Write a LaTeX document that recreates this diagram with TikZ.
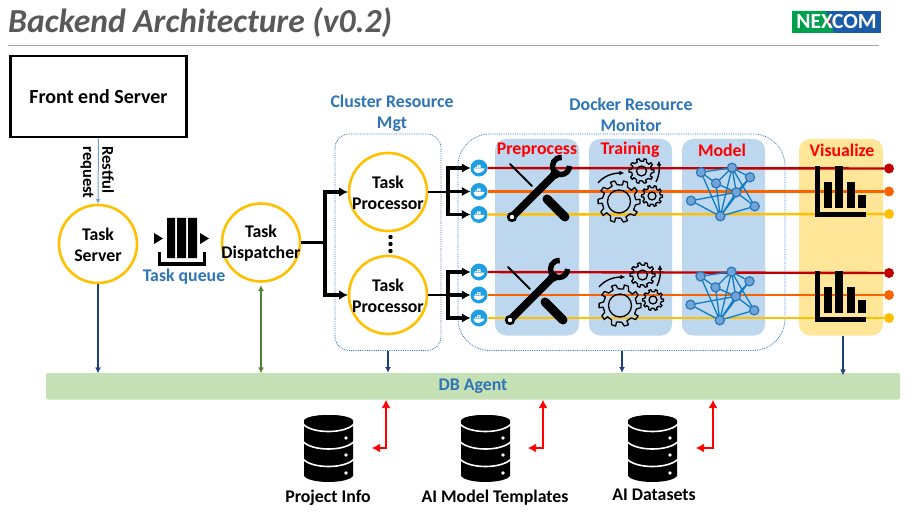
\documentclass[tikz,border=0pt]{standalone}
\usepackage{fontspec}
\setmainfont{Carlito}
\usetikzlibrary{arrows.meta,calc}
\definecolor{ablue}{HTML}{2E75B6}
\definecolor{panelblue}{HTML}{BDD7EE}
\definecolor{panelyel}{HTML}{FFE699}
\definecolor{ring}{HTML}{FFC000}
\definecolor{dbgreen}{HTML}{C5E0B4}
\definecolor{navy}{HTML}{1F3F7F}
\definecolor{grn}{HTML}{548235}
\definecolor{lred}{HTML}{C00000}
\definecolor{lora}{HTML}{FA6400}
\definecolor{dock}{HTML}{1E9FE3}
\definecolor{netl}{HTML}{0F7CC4}
\definecolor{netn}{HTML}{6FA5D8}
\definecolor{logog}{HTML}{00A04E}
\definecolor{logob}{HTML}{1B5CA8}
\tikzset{
  x=1pt,y=-1pt,
  txt/.style={font=\fontsize{17.8}{21}\selectfont\bfseries,align=center,inner sep=0pt},
  blabel/.style={txt,text=ablue},
  rlabel/.style={txt,text=red},
  proc/.style={circle,draw=ring,line width=2.6pt,minimum size=78pt,inner sep=0pt},
  proclabel/.style={txt,yshift=-1pt},
  panel/.style={rounded corners=11pt},
  dotbox/.style={draw=ablue,densely dotted,line width=0.8pt},
  blacktip/.style={line width=0.6pt,-{Latex[length=8.5pt,width=9pt]}},
  blackline/.style={line width=2.8pt},
  shaftline/.style={line width=3.4pt,line cap=rect},
  navyline/.style={draw=navy,line width=1.3pt},
  navytip/.style={draw=navy,line width=0.4pt,-{Latex[length=5.5pt,width=5.5pt]}},
  grnline/.style={draw=grn,line width=1.3pt},
  grntip/.style={draw=grn,line width=0.4pt,-{Latex[length=5.5pt,width=5.5pt]}},
  redline/.style={draw=red,line width=2.8pt},
  redtip/.style={draw=red,line width=0.6pt,-{Latex[length=8pt,width=8.5pt]}},
  dockn/.style={circle,fill=dock,minimum size=17pt,inner sep=0pt},
  endn/.style={circle,minimum size=10pt,inner sep=0pt},
  conn/.style={line width=2.4pt},
}
\newcommand{\DockWhale}[2]{%
  \begin{scope}[shift={(#1,#2)}]
    \fill[white] (-5.5,0.5) -- (5.5,0.5) .. controls (5,3.5) and (1,5) .. (-1.5,5) .. controls (-4,5) and (-5.5,3) .. (-5.5,0.5) -- cycle;
    \fill[white] (-4,-1) rectangle (-2.4,0) (-2,-1) rectangle (-0.4,0) (0,-1) rectangle (1.6,0) (-2,-3) rectangle (-0.4,-1.4) (0,-3) rectangle (1.6,-1.4);
  \end{scope}}
\newcommand{\ToolIcon}[2]{%
  \begin{scope}[shift={(#1,#2)}]
    \draw[line width=2pt,line cap=round] (510,164) -- (532,186);
    \draw[line width=9pt,line cap=round] (547,199) -- (565,217);
    \draw[line width=7.5pt] (512,217) -- (556,173);
    \fill (512,217) circle[radius=5.2];
    \fill[white] (512,217) circle[radius=2.2];
    \draw[line width=5.4pt] (569.5,166) arc[start angle=0,end angle=275,radius=8.5];
    \fill (555,174) circle[radius=5];
  \end{scope}}
\newcommand{\GearShape}[4]{% cx cy outer inner
  \pgfmathsetmacro{\gi}{#3*0.8}
  \draw[line width=1.3pt,line join=round] (#1,#2)
    ++(0:#3) \foreach \a in {0,36,...,324}{
       -- ($(#1,#2)+(\a+6:#3)$) -- ($(#1,#2)+(\a+12:\gi)$) -- ($(#1,#2)+(\a+30:\gi)$) -- ($(#1,#2)+(\a+36-6:#3)$)
    } -- cycle;
  \draw[line width=1.3pt] (#1,#2) circle[radius=#4];}
\newcommand{\GearIcon}[2]{%
  \begin{scope}[shift={(#1,#2)}]
    \GearShape{619}{201.5}{21}{11.5}
    \GearShape{641.5}{171}{12.5}{5}
    \GearShape{652}{196}{10.5}{4}
    \draw[line width=1.4pt] (598,183) .. controls (604,176) and (612,173) .. (621,173);
    \draw[line width=0.4pt,-{Latex[length=4.5pt,width=4.5pt]}] (619,173) -- (624,173);
    \draw[line width=1.4pt] (656,182) .. controls (659,176) and (660,169) .. (659,164);
    \draw[line width=0.4pt,-{Latex[length=4.5pt,width=4.5pt]}] (659,166) -- (659,161);
  \end{scope}}
\newcommand{\NetIcon}[2]{%
  \begin{scope}[shift={(#1,#2)}]
    \coordinate (A) at (701,172.3);\coordinate (B) at (732,167.7);\coordinate (C) at (750,177.3);
    \coordinate (D) at (716,183.3);\coordinate (E) at (736.3,192.3);\coordinate (F) at (691,200.7);
    \coordinate (G) at (754.7,206.3);\coordinate (H) at (720.3,216.3);
    \draw[netl,line width=1.3pt] (A)--(B) (A)--(D) (A)--(H) (B)--(D) (B)--(C) (B)--(H) (B)--(E) (C)--(E)
      (D)--(E) (D)--(H) (E)--(H) (E)--(F) (F)--(H) (G)--(H) (E)--(G) (B)--(G) (C)--(H);
    \foreach \p in {A,B,C,D,E,F,G,H}{\draw[fill=netn,draw=ablue,line width=1.2pt] (\p) circle[radius=4.6];}
  \end{scope}}
\newcommand{\ChartIcon}[2]{%
  \begin{scope}[shift={(#1,#2)}]
    \fill (815,166) rectangle (820,217);
    \fill (815,212.5) rectangle (866,217);
    \fill (824,182) rectangle (832,208);
    \fill (835,166) rectangle (843,208);
    \fill (847,182) rectangle (855,208);
    \fill (858,195) rectangle (866,208);
  \end{scope}}
\newcommand{\DbIcon}[1]{%
  \begin{scope}[shift={(#1,0)}]
    \fill (304,421) arc[start angle=180,end angle=360,x radius=24.5,y radius=6] -- (353,476)
      .. controls (347,484) and (310,484) .. (304,476) -- cycle;
    \fill (328.5,421) ellipse[x radius=24.5,y radius=6];
    \foreach \yy in {424,441.5,459}{
      \draw[white,line width=1.6pt] (303,\yy) .. controls (312,\yy+10) and (345,\yy+10) .. (354,\yy);}
    \foreach \yy in {438,455,473}{\fill[white] (346,\yy) circle[radius=1.8];}
  \end{scope}}
\newcommand{\BlackTo}[2]{% from, to node west
  \draw[shaftline] (#1) -- (#1 |- #2.west) -- ([xshift=-6pt]#2.west);
  \draw[blacktip] ([xshift=-9pt]#2.west) -- (#2.west);}
\newcommand{\NavyDown}[2]{%
  \draw[navyline] (#1) -- ([yshift=3pt]#2);
  \draw[navytip] ([yshift=6pt]#2) -- (#2);}
\newcommand{\RedPair}[3]{%
  \draw[redline] ([yshift=-5pt]#1) -- (#2) -- ([xshift=5pt]#3);
  \draw[redtip] ([yshift=-9pt]#1) -- (#1);
  \draw[redtip] ([xshift=9pt]#3) -- (#3);}
\begin{document}
\begin{tikzpicture}
\useasboundingbox[fill=white] (0,0) rectangle (913,513);
% title
\node[anchor=base west,inner sep=0pt,text=black!65,font=\fontsize{33.6}{36}\selectfont\bfseries\itshape] (title) at (8,33) {Backend Architecture (v0.2)};
\draw[black!35,line width=1pt] (8,45.5) -- (879,45.5);
% logo
\fill[logob] (792,11) rectangle (881,33);
\fill[logog] (792,11) -- (826,11) -- (834,33) -- (792,33) -- cycle;
\node[inner sep=0pt,text=white,font=\fontsize{21.5}{21}\selectfont\bfseries] (logo) at (836.5,22) {NEXCOM};
\fill[red] (829.5,22) circle[radius=1.3];
% panels
\fill[panelblue,panel] (495,139) rectangle (579,335.5);
\fill[panelblue,panel] (589,139) rectangle (672,335.5);
\fill[panelblue,panel] (682,139) rectangle (765,335.5);
\fill[panelyel,panel] (799,139) rectangle (883,335.5);
\node[rlabel] (h1) at (537,150) {Preprocess};
\node[rlabel] (h2) at (630,150) {Training};
\node[rlabel] (h3) at (722,150) {Model};
\node[rlabel] (h4) at (842,150) {Visualize};
% dotted boxes
\path[dotbox,rounded corners=14pt] (335,134) rectangle (441,350.5);
\path[dotbox,rounded corners=32pt] (458,134) rectangle (785,350.5);
\node[blabel] (l1) at (392,113.5) {Cluster Resource\\Mgt};
\node[blabel] (l2) at (631,114.5) {Docker Resource\\Monitor};
% front end
\node[draw,line width=2.6pt,minimum width=176pt,minimum height=81pt,inner sep=0pt,font=\fontsize{20}{21}\selectfont\bfseries] (fe) at (98.5,96.5) {Front end Server};
% circles
\node[proc] (ts) at (98,244) {};
\node[proc] (td) at (261,242.5) {};
\node[proc] (tp1) at (388,192) {};
\node[proc] (tp2) at (388,295) {};
\node[proclabel] (tst) at (ts) {Task\\Server};
\node[proclabel] (tdt) at (td) {Task\\Dispatcher};
\node[proclabel] (tp1t) at (tp1) {Task\\Processor};
\node[proclabel] (tp2t) at (tp2) {Task\\Processor};
\draw[-{Latex[length=4.5pt,width=4.5pt]},line width=1pt,draw=ablue!70!white] (fe.south) -- (ts.north);
\node[txt,rotate=-90,font=\fontsize{16.5}{16.5}\selectfont\bfseries] (r1) at (108,170) {Restful};
\node[txt,rotate=-90,font=\fontsize{16.5}{16.5}\selectfont\bfseries] (r2) at (87,172.5) {request};
% queue
\fill (167,218) rectangle (175,258) (177,218) rectangle (186,258) (188,218) rectangle (197,258);
\draw[line width=3.4pt] (159.5,252) -- (159.5,264) -- (204.5,264) -- (204.5,252);
\fill (154,233) -- (163,238.5) -- (154,244) -- cycle;
\fill (200,233) -- (209,238.5) -- (200,244) -- cycle;
\node[blabel] (tq) at (184,276.5) {Task queue};
% dispatcher to processors
\coordinate (sp) at (325,242.5);
\draw[blackline] (td.east) -- (sp);
\BlackTo{sp}{tp1}
\BlackTo{sp}{tp2}
\foreach \yy in {237,244,251}{\fill (390.5,\yy) circle[radius=2.2];}
% docker + end nodes
\foreach \i/\yy in {1/168,2/191.5,3/214.5,4/272,5/295,6/318}{
  \node[dockn] (d\i) at (479,\yy) {};
}
\node[endn,fill=lred] (e1) at (889,168.5) {};
\node[endn,fill=lora] (e2) at (889,191.5) {};
\node[endn,fill=ring] (e3) at (889,214) {};
\node[endn,fill=lred] (e4) at (889,273) {};
\node[endn,fill=lora] (e5) at (889,295) {};
\node[endn,fill=ring] (e6) at (889,318) {};
\draw[conn,lred] (d1) -- (e1);
\draw[conn,lora] (d2) -- (e2);
\draw[conn,ring] (d3) -- (e3);
\draw[conn,lred] (d4) -- (e4);
\draw[conn,lora] (d5) -- (e5);
\draw[conn,ring] (d6) -- (e6);
\foreach \yy in {168,191.5,214.5,272,295,318}{\DockWhale{479}{\yy}}
% processor to docker
\coordinate (b1) at (448,192);
\coordinate (b2) at (448,295);
\draw[blackline] (tp1.east) -- (b1);
\draw[blackline] (tp2.east) -- (b2);
\BlackTo{b1}{d1}\BlackTo{b1}{d2}\BlackTo{b1}{d3}
\BlackTo{b2}{d4}\BlackTo{b2}{d5}\BlackTo{b2}{d6}
% icons
\ToolIcon{0}{0}\ToolIcon{-2}{103}
\GearIcon{0}{0}\GearIcon{1}{104}
\NetIcon{0}{0}\NetIcon{-0.5}{104}
\ChartIcon{0}{0}\ChartIcon{0}{104.5}
% DB agent
\fill[dbgreen,rounded corners=2pt] (46,373) rectangle (900,399.5);
\node[blabel] (db) at (473,386) {DB Agent};
\coordinate (a1) at (98,373);
\coordinate (a2) at (261,373);
\coordinate (a3) at (388,372.5);
\coordinate (a4) at (622,372.5);
\coordinate (a5) at (843,375);
\coordinate (s3) at (388,351);
\coordinate (s4) at (622,351);
\coordinate (s5) at (843,335.5);
\coordinate (g1) at (261,285.5);
\NavyDown{ts.south}{a1}
\draw[grnline] ([yshift=-3pt]g1) -- ([yshift=3pt]a2);
\draw[grntip] ([yshift=6pt]a2) -- (a2);
\draw[grntip] ([yshift=-6pt]g1) -- (g1);
\NavyDown{s3}{a3}
\NavyDown{s4}{a4}
\NavyDown{s5}{a5}
% databases
\DbIcon{0}\DbIcon{157}\DbIcon{324}
\node[txt] (p1) at (328,497.5) {Project Info};
\node[txt] (p2) at (495,497.5) {AI Model Templates};
\node[txt] (p3) at (654,494.5) {AI Datasets};
\coordinate (u1) at (386,400);\coordinate (c1) at (386,448);\coordinate (v1) at (372,448);
\coordinate (u2) at (543,400);\coordinate (c2) at (543,448);\coordinate (v2) at (528,448);
\coordinate (u3) at (713,400);\coordinate (c3) at (713,448);\coordinate (v3) at (696,448);
\RedPair{u1}{c1}{v1}
\RedPair{u2}{c2}{v2}
\RedPair{u3}{c3}{v3}
\end{tikzpicture}
\end{document}
